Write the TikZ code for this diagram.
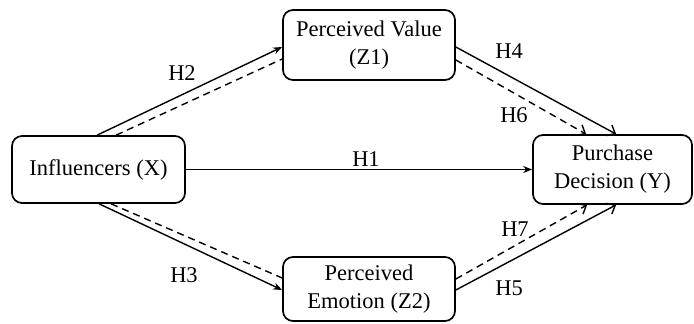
\documentclass[tikz,border=0pt]{standalone}
\usepackage{fontspec}
\setmainfont{Liberation Serif}
\usetikzlibrary{arrows.meta}
\begin{document}
\begin{tikzpicture}[x=1pt,y=-1pt,
  box/.style={draw,line width=1.7pt,rounded corners=10pt,align=center,inner sep=0pt,
    font=\fontsize{22.5}{28}\selectfont},
  lbl/.style={inner sep=0pt,font=\fontsize{22.5}{28}\selectfont},
  conn/.style={line width=1.4pt},
  dsh/.style={conn,dash pattern=on 7pt off 5pt},
  fhead/.style={-{Stealth[length=9pt,width=7pt]}},
  vhead/.style={-{Straight Barb[length=7pt,width=12pt,line width=1.4pt]}}]
\useasboundingbox (0,0) rectangle (694,324);
\node[box,minimum width=173pt,minimum height=67pt] (X) at (98.5,169.5) {Influencers (X)};
\node[box,minimum width=172pt,minimum height=70pt] (Z1) at (369,45) {Perceived Value\\(Z1)};
\node[box,minimum width=172pt,minimum height=64pt] (Z2) at (369,289) {Perceived\\Emotion (Z2)};
\node[box,minimum width=159pt,minimum height=69pt] (Y) at (612.5,169.5) {Purchase\\Decision (Y)};
% H1
\draw[conn,fhead] (X.east) -- (Y.west);
% X -> Z1
\draw[conn,fhead] ([xshift=86pt]X.north west) -- ([yshift=-2pt]Z1.west);
\draw[dsh] ([xshift=105pt]X.north west) -- ([yshift=-14pt]Z1.west);
% X -> Z2
\draw[conn,fhead] ([xshift=88pt]X.south west) -- ([yshift=-1pt]Z2.west);
\draw[dsh] ([xshift=100pt]X.south west) -- ([yshift=11pt]Z2.west);
% Z1 -> Y
\draw[conn,vhead] ([yshift=-2pt]Z1.east) -- ([xshift=84pt]Y.north west);
\draw[dsh,vhead] ([yshift=-15pt]Z1.east) -- ([xshift=54pt]Y.north west);
% Z2 -> Y
\draw[conn,vhead] ([yshift=-1pt]Z2.east) -- ([xshift=84pt]Y.south west);
\draw[dsh,vhead] ([yshift=10pt]Z2.east) -- ([xshift=55pt]Y.south west);
% labels
\node[lbl] (h1) at (366,159) {H1};
\node[lbl] (h2) at (182,73) {H2};
\node[lbl] (h3) at (184,275) {H3};
\node[lbl] (h4) at (509,51) {H4};
\node[lbl] (h6) at (514,115) {H6};
\node[lbl] (h7) at (515,229) {H7};
\node[lbl] (h5) at (509,288) {H5};
\end{tikzpicture}
\end{document}
